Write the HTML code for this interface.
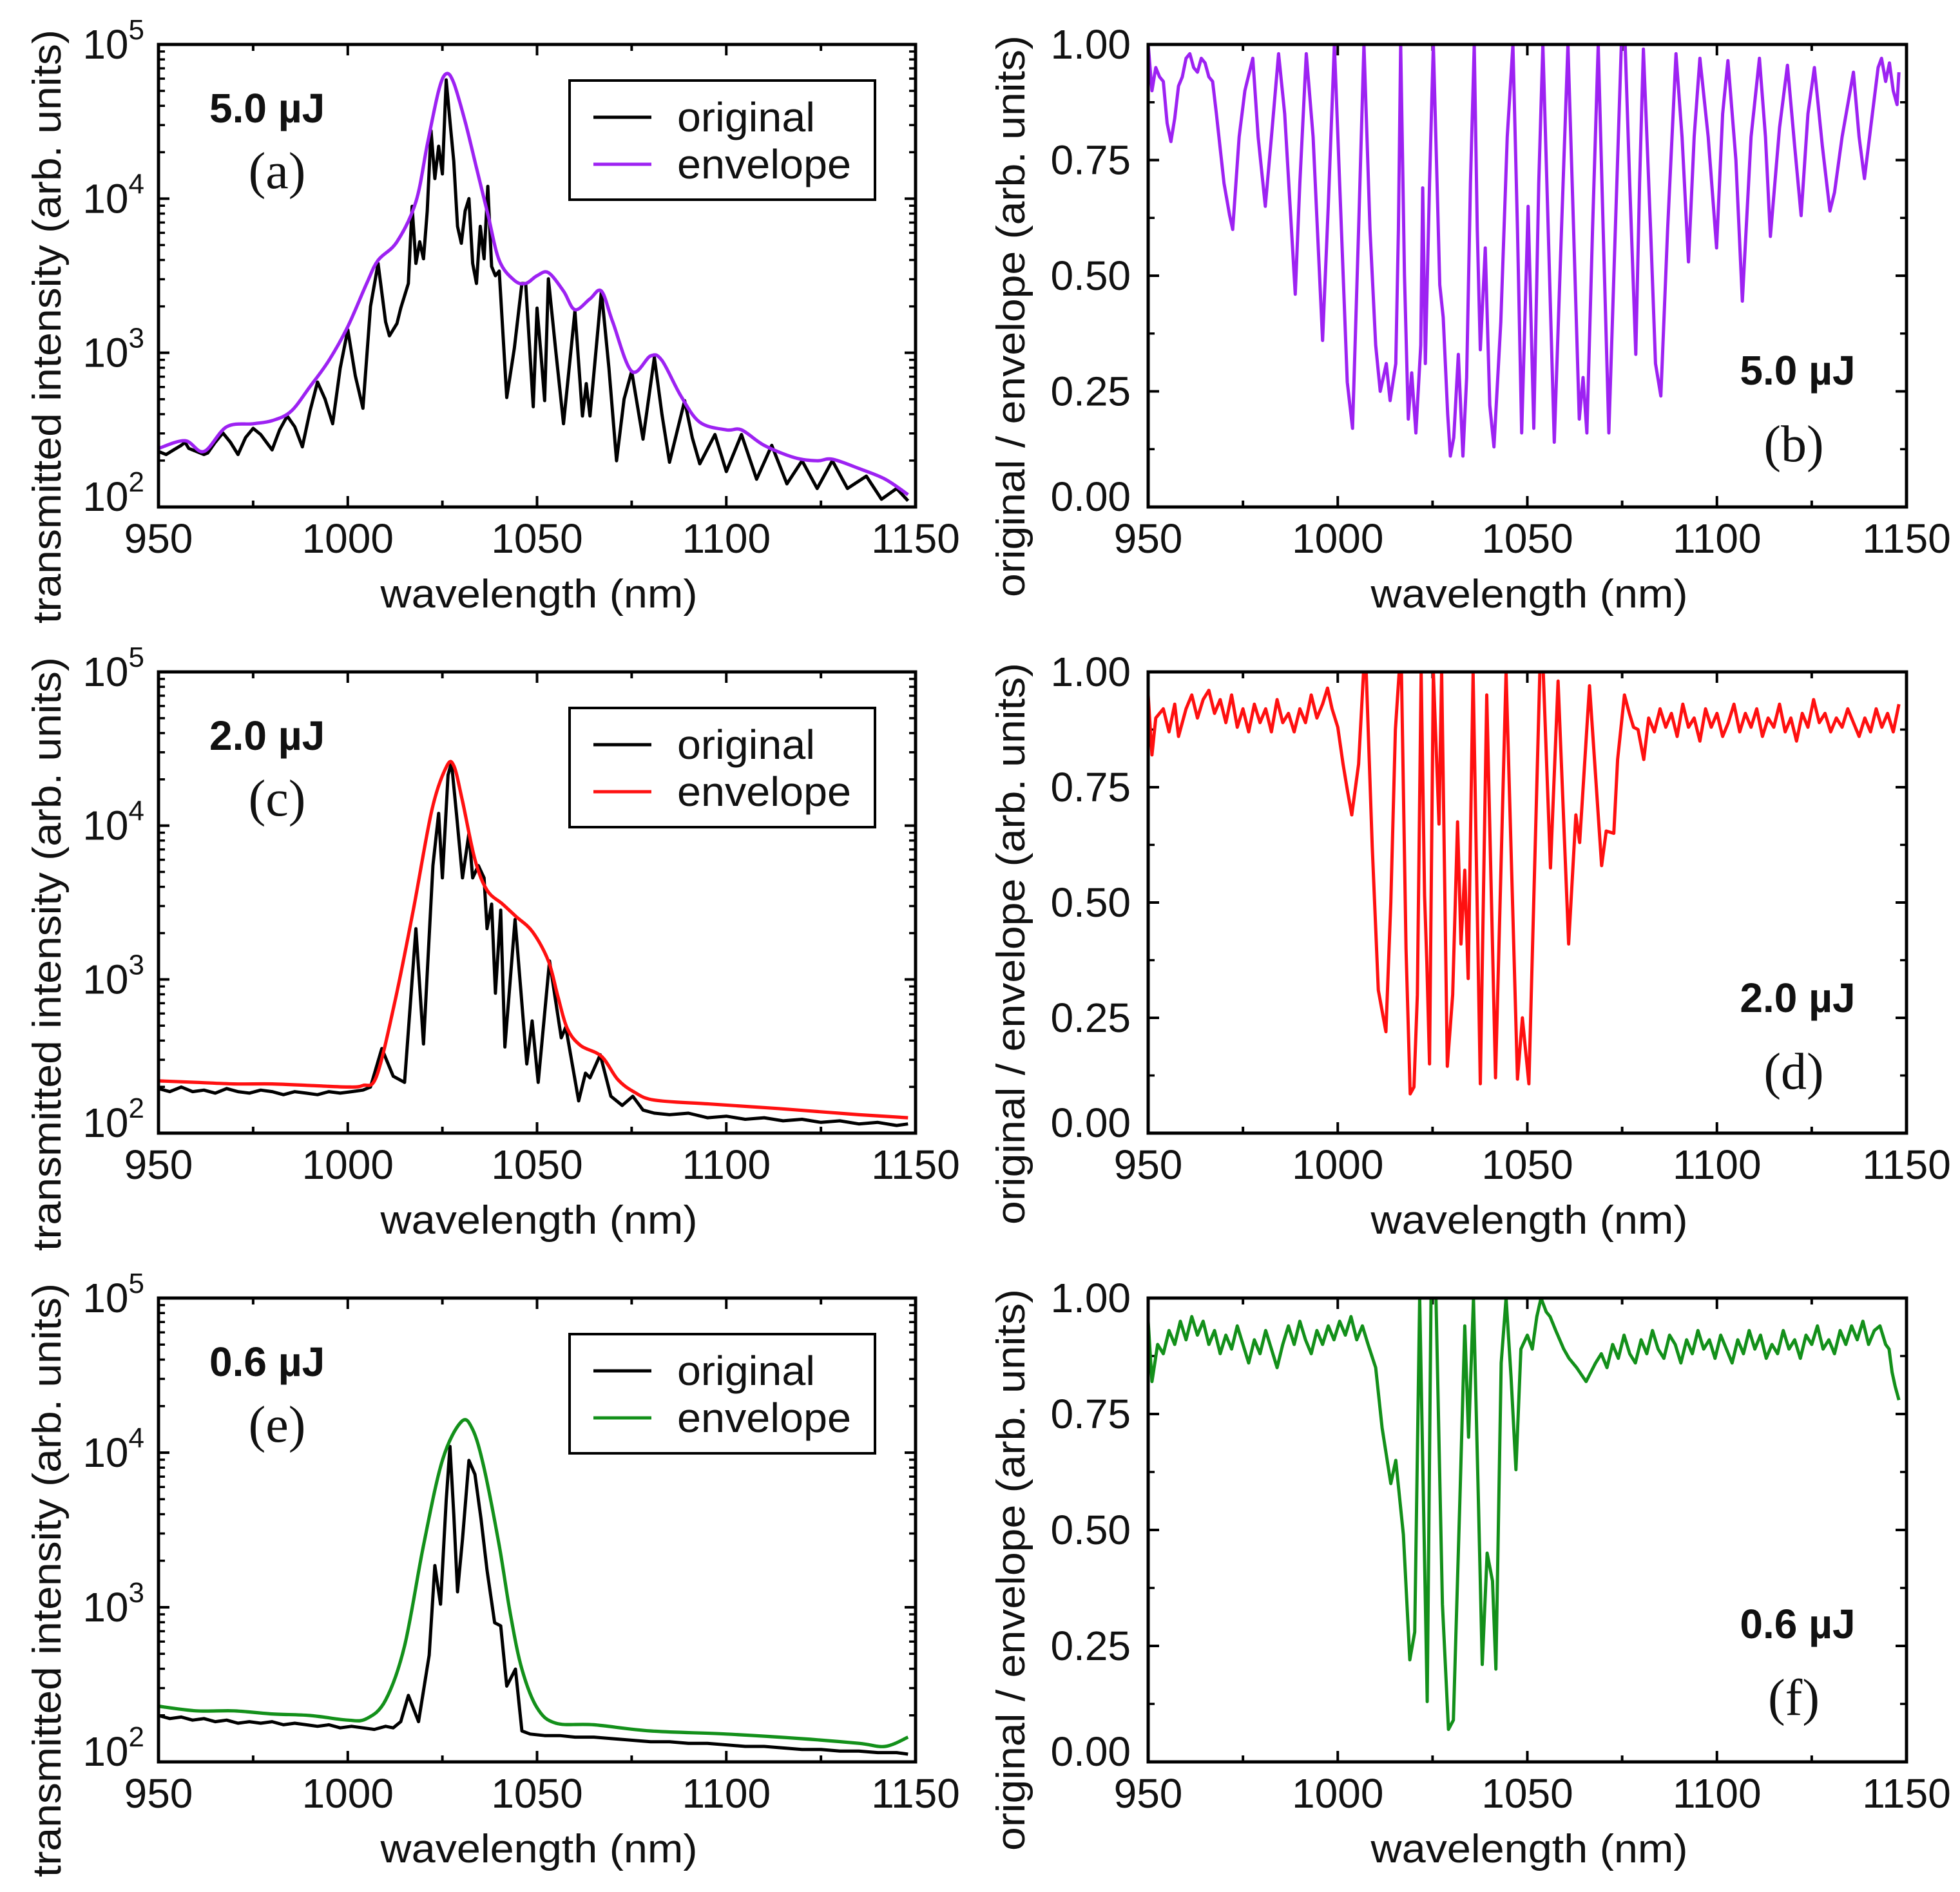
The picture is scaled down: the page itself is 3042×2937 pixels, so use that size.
<!DOCTYPE html>
<html><head><meta charset="utf-8"><title>Transmitted spectra</title>
<style>html,body{margin:0;padding:0;background:#fff}svg{display:block}</style></head>
<body>
<svg id="fig" xmlns="http://www.w3.org/2000/svg" width="3042" height="2937" viewBox="0 0 3042 2937"></svg>
<script>
// ---------- data: panel (a) 5.0 uJ, log10 intensity ----------
const aOrigWl = [950,952,954,956,957,958,960,962,963,965,
967,969,971,973,975,977,980,982,984,986,
988,990,992,994,996,998,1000,1002,1004,1006,
1008,1010,1011,1013,1014,1016,1017,1018,1019,1020,
1021,1022,1023,1024,1025,1026,1027,1028,1029,1030,
1031,1032,1033,1034,1035,1036,1037,1038,1039,1040,
1042,1044,1046,1047,1049,1050,1051,1052,1053,1055,
1057,1060,1062,1063,1064,1067,1069,1071,1073,1075,
1078,1081,1083,1085,1089,1091,1093,1097,1100,1104,
1108,1112,1116,1120,1124,1128,1132,1137,1141,1145,
1148];
const aOrigLog = [2.36,2.34,2.37,2.40,2.42,2.38,2.36,2.34,2.35,2.42,
2.48,2.42,2.34,2.45,2.51,2.47,2.37,2.50,2.59,2.52,
2.39,2.62,2.81,2.70,2.54,2.90,3.15,2.85,2.64,3.30,
3.58,3.20,3.11,3.19,3.29,3.45,3.95,3.58,3.72,3.61,
3.92,4.44,4.13,4.34,4.16,4.77,4.50,4.24,3.82,3.71,
3.92,4.00,3.58,3.45,3.82,3.61,4.08,3.56,3.50,3.53,
2.71,3.03,3.45,3.45,2.65,3.29,3.00,2.69,3.48,3.00,
2.54,3.27,2.59,2.80,2.59,3.40,2.90,2.30,2.70,2.88,
2.44,2.97,2.60,2.29,2.69,2.45,2.28,2.47,2.23,2.47,
2.18,2.40,2.15,2.30,2.12,2.30,2.12,2.20,2.05,2.12,
2.04];
const aEnvWl = [950,957,962,968,975,980,985,990,995,1000,
1005,1008,1013,1018,1021,1024,1026,1028,1031,1034,
1037,1040,1044,1047,1050,1053,1057,1060,1064,1067,
1070,1075,1080,1083,1088,1093,1100,1104,1110,1118,
1124,1128,1135,1142,1148];
const aEnvLog = [2.38,2.43,2.36,2.52,2.54,2.56,2.62,2.78,2.95,3.17,
3.45,3.60,3.72,3.98,4.35,4.70,4.81,4.75,4.50,4.20,
3.90,3.60,3.47,3.45,3.50,3.52,3.40,3.28,3.35,3.40,
3.20,2.88,2.98,2.95,2.72,2.55,2.50,2.50,2.40,2.32,
2.30,2.31,2.25,2.18,2.08];
// ---------- panel (b) ratio ----------
const bWl = [950,951,952,953,954,955,956,957,958,959,
960,961,962,963,964,965,966,967,968,970,
971.5,972.3,974,975.5,977.6,979,980.9,982.5,984.4,986,
988.8,990,991.7,993.5,996,997.5,999.1,1000.5,1002.5,1003.9,
1005.5,1006.9,1008.5,1010,1011.2,1012,1012.8,1013.8,1015.3,1016,
1016.6,1017.6,1018.6,1019.5,1020.6,1021.9,1022.4,1023.1,1024.2,1025.2,
1026.2,1026.9,1027.8,1029,1029.7,1030.6,1031.8,1033,1034,1035,
1036,1036.8,1037.6,1038.9,1040.1,1041.2,1043,1044.7,1046.2,1047.4,
1048.5,1050.2,1051.7,1053,1054.1,1055.5,1057.1,1059,1060.7,1062.2,
1063.7,1064.7,1065.7,1067.2,1068.7,1070,1071.5,1073,1074.8,1075.8,
1077,1078.6,1079.6,1080.6,1082.5,1083.8,1085.2,1087,1089.2,1090.8,
1092.5,1094,1095.5,1097.7,1099.9,1101.5,1102.9,1105,1106.7,1109,
1111.2,1112.8,1114.1,1116.5,1118.6,1120.5,1122.2,1124,1125.7,1127.8,
1129.8,1131,1133,1136,1137.5,1138.9,1141,1142.5,1143.4,1144.5,
1145.5,1146.5,1147.5,1148];
const bRatio = [1.00,0.90,0.95,0.93,0.92,0.83,0.79,0.84,0.91,0.93,
0.97,0.98,0.95,0.94,0.97,0.96,0.93,0.92,0.85,0.70,
0.63,0.60,0.80,0.90,0.97,0.80,0.65,0.80,0.98,0.85,
0.46,0.70,0.98,0.80,0.36,0.65,1.00,0.70,0.27,0.17,
0.60,1.00,0.60,0.35,0.25,0.28,0.31,0.23,0.31,0.60,
1.00,0.50,0.19,0.29,0.16,0.35,0.69,0.31,0.70,1.00,
0.70,0.48,0.41,0.20,0.11,0.15,0.33,0.11,0.28,0.70,
1.00,0.60,0.34,0.56,0.22,0.13,0.40,0.80,1.00,0.60,
0.16,0.65,0.17,0.70,1.00,0.60,0.14,0.60,1.00,0.60,
0.19,0.28,0.16,0.60,1.00,0.60,0.16,0.55,1.00,1.00,
0.70,0.33,0.70,0.99,0.60,0.31,0.24,0.60,0.98,0.80,
0.53,0.80,0.97,0.80,0.56,0.85,0.965,0.75,0.445,0.80,
0.97,0.80,0.585,0.82,0.955,0.78,0.63,0.85,0.95,0.78,
0.64,0.68,0.80,0.94,0.80,0.71,0.85,0.95,0.97,0.92,
0.96,0.90,0.87,0.94];
// ---------- panel (c) 2.0 uJ ----------
const cOrigWl = [950,953,956,959,962,965,968,971,974,977,
980,983,986,989,992,995,998,1001,1004,1006,
1009,1012,1015,1018,1020,1022.5,1024,1025,1026.5,1027.4,
1028.7,1030.3,1032,1033,1034.5,1036,1036.8,1038,1039,1040.4,
1041.5,1044.2,1047.3,1048.7,1050.3,1053.3,1056.4,1057.6,1061,1062.8,
1064,1066.7,1069.5,1072.5,1075.3,1078,1081,1085,1090,1095,
1100,1105,1110,1115,1120,1125,1130,1135,1140,1145,
1148];
const cOrigLog = [2.29,2.27,2.30,2.27,2.28,2.26,2.29,2.27,2.26,2.28,
2.27,2.25,2.27,2.26,2.25,2.27,2.26,2.27,2.28,2.30,
2.55,2.37,2.33,3.33,2.58,3.74,4.08,3.66,4.33,4.41,
4.08,3.66,3.95,3.66,3.74,3.66,3.33,3.49,2.91,3.45,
2.56,3.39,2.45,2.73,2.33,3.12,2.62,2.69,2.21,2.39,
2.36,2.51,2.24,2.18,2.24,2.15,2.13,2.12,2.13,2.10,
2.11,2.09,2.10,2.08,2.09,2.07,2.08,2.06,2.07,2.05,
2.06];
const cEnvWl = [950,960,970,980,990,1000,1004,1007.6,1012.4,1017.3,
1022.2,1026,1028,1030.3,1033.6,1036.8,1040.9,1044.4,1048.8,1053,
1055.5,1058,1061.5,1067,1071.3,1075.5,1081,1095.5,1113.7,1135,
1148];
const cEnvLog = [2.34,2.33,2.32,2.32,2.31,2.30,2.31,2.37,2.85,3.45,
4.10,4.38,4.39,4.16,3.78,3.58,3.49,3.41,3.31,3.12,
2.89,2.68,2.57,2.50,2.35,2.27,2.215,2.19,2.16,2.12,
2.10];
// ---------- panel (d) ratio ----------
const dWl = [950,951,952,954,955.5,957,958,960,961.5,963,
964.5,966,967.5,969,970.5,972,973.5,975,976.5,978,
979.5,981,982.5,984,985.5,987,988.5,990,991.5,993,
994.5,996,997.3,998.5,1000,1001.4,1002.6,1003.7,1005.5,1006.8,
1007.5,1009.1,1010.7,1012.7,1014,1015.2,1016.2,1016.8,1018,1019.1,
1020.1,1021,1022,1022.9,1023.5,1024.2,1025.2,1026.7,1027.4,1028.9,
1030.3,1031.6,1032.5,1033.5,1034.4,1035.7,1037.6,1039.3,1041.6,1044.4,
1047.4,1048.7,1050.4,1053.3,1054.2,1056.1,1058.1,1060.9,1062.8,1063.8,
1066.4,1069.6,1070.8,1072.8,1073.8,1075.6,1076.9,1078,1079.2,1080.7,
1082,1083.5,1085,1086.5,1088,1089.5,1091,1092.5,1094,1095.5,
1097,1098.5,1100,1101.5,1103,1104.5,1106,1107.5,1109,1110.5,
1112,1113.5,1115,1116.5,1118,1119.5,1121,1122.5,1124,1125.5,
1127,1128.5,1130,1131.5,1133,1134.5,1136,1137.5,1139,1140.5,
1142,1143.5,1145,1146.5,1148];
const dRatio = [0.95,0.82,0.90,0.92,0.87,0.93,0.86,0.92,0.95,0.90,
0.94,0.96,0.91,0.94,0.89,0.95,0.88,0.92,0.87,0.93,
0.89,0.92,0.87,0.94,0.89,0.91,0.87,0.92,0.89,0.95,
0.90,0.93,0.965,0.92,0.88,0.80,0.74,0.69,0.80,1.00,
1.00,0.62,0.31,0.22,0.50,0.875,1.00,1.00,0.40,0.085,
0.10,0.30,1.00,0.515,0.37,0.15,1.00,0.67,1.00,0.145,
0.30,0.675,0.41,0.57,0.335,1.00,0.107,0.95,0.12,1.00,
0.117,0.25,0.107,1.00,1.00,0.575,0.98,0.41,0.69,0.63,
0.97,0.58,0.655,0.65,0.81,0.95,0.91,0.88,0.875,0.81,
0.90,0.87,0.92,0.88,0.91,0.86,0.93,0.88,0.90,0.85,
0.92,0.88,0.91,0.86,0.89,0.93,0.87,0.91,0.88,0.92,
0.86,0.90,0.88,0.93,0.87,0.90,0.85,0.91,0.88,0.94,
0.89,0.91,0.87,0.90,0.88,0.92,0.89,0.86,0.90,0.87,
0.92,0.88,0.91,0.87,0.93];
// ---------- panel (e) 0.6 uJ ----------
const eOrigWl = [950,953,956,959,962,965,968,971,974,977,
980,983,986,989,992,995,998,1001,1004,1007,
1010,1012,1014,1016,1018.7,1021.5,1023,1024.5,1026,1027,
1028,1029,1030.3,1032,1033.6,1035.2,1036.8,1038.8,1040.4,1042,
1044.3,1046,1048.2,1052,1056,1060,1065,1070,1075,1080,
1085,1090,1095,1100,1105,1110,1115,1120,1125,1130,
1135,1140,1145,1148];
const eOrigLog = [2.30,2.28,2.29,2.27,2.28,2.26,2.27,2.25,2.26,2.25,
2.26,2.24,2.25,2.24,2.23,2.24,2.22,2.23,2.22,2.21,
2.23,2.22,2.26,2.43,2.26,2.69,3.27,3.02,3.69,4.04,
3.60,3.10,3.44,3.95,3.86,3.57,3.24,2.90,2.88,2.49,
2.60,2.20,2.18,2.17,2.17,2.16,2.16,2.15,2.14,2.13,
2.13,2.12,2.12,2.11,2.10,2.10,2.09,2.08,2.08,2.07,
2.07,2.06,2.06,2.05];
const eEnvWl = [950,960,970,980,990,1000,1005,1010,1015,1020,
1025,1030,1033,1036,1040,1043,1046,1050,1055,1065,
1080,1100,1120,1135,1142,1148];
const eEnvLog = [2.36,2.33,2.33,2.31,2.30,2.27,2.28,2.40,2.75,3.40,
3.95,4.20,4.15,3.90,3.40,2.95,2.60,2.35,2.25,2.24,
2.20,2.18,2.15,2.12,2.10,2.16];
// ---------- panel (f) ratio ----------
const fWl = [950,951,952.5,954,955.5,957,958.5,960,961.5,963,
964.5,966,967.5,969,970.5,972,973.5,975,976.5,978,
979.5,981,982.5,984,985.5,987,988.5,990,991.5,993,
994.5,996,997.5,999,1000.5,1002,1003.5,1005,1006.5,1008,
1010,1011.7,1014,1015.3,1017.3,1019,1020.3,1021.6,1022.6,1023.6,
1024.6,1025.9,1027.6,1029.2,1030.5,1032.2,1033.5,1034.5,1035.8,1037.1,
1038.1,1039.4,1040.8,1041.7,1043.1,1044.4,1045.7,1047,1048.3,1050,
1051.3,1052.5,1053.6,1055,1056,1057.5,1059.6,1061,1063,1065.5,
1068,1069.5,1071,1072.5,1074,1075.5,1077,1078.5,1080,1081.5,
1083,1084.5,1086,1087.5,1089,1090.5,1092,1093.5,1095,1096.5,
1098,1099.5,1101,1102.5,1104,1105.5,1107,1108.5,1110,1111.5,
1113,1114.5,1116,1117.5,1119,1120.5,1122,1123.5,1125,1126.5,
1128,1129.5,1131,1132.5,1134,1135.5,1137,1138.5,1140,1141.5,
1143,1144.5,1145.4,1146.2,1147,1148];
const fRatio = [0.95,0.82,0.90,0.88,0.93,0.90,0.95,0.91,0.96,0.92,
0.95,0.90,0.93,0.88,0.92,0.89,0.94,0.90,0.86,0.91,
0.88,0.93,0.89,0.85,0.90,0.94,0.90,0.95,0.91,0.88,
0.93,0.90,0.94,0.91,0.95,0.92,0.96,0.91,0.94,0.90,
0.85,0.72,0.60,0.65,0.49,0.22,0.28,1.00,0.56,0.13,
1.00,1.00,0.34,0.07,0.09,0.56,0.94,0.70,1.00,0.56,
0.21,0.45,0.39,0.20,0.86,1.00,0.83,0.63,0.89,0.92,
0.89,0.96,1.00,0.97,0.96,0.93,0.89,0.87,0.85,0.82,
0.86,0.88,0.85,0.90,0.87,0.92,0.88,0.86,0.91,0.88,
0.93,0.89,0.87,0.92,0.90,0.86,0.91,0.88,0.93,0.89,
0.91,0.87,0.92,0.89,0.86,0.91,0.88,0.93,0.89,0.92,
0.87,0.90,0.88,0.93,0.89,0.91,0.87,0.92,0.90,0.94,
0.89,0.91,0.88,0.93,0.90,0.94,0.91,0.95,0.90,0.93,
0.94,0.90,0.89,0.84,0.81,0.78];
// ---------- axis tick labels ----------
const xTicks = [950,1000,1050,1100,1150];
const logTicks = [2,3,4,5];
const ratioTicks = [0,0.25,0.5,0.75,1.0];
const ratioTickLabels = ['0.00','0.25','0.50','0.75','1.00'];

const NS = 'http://www.w3.org/2000/svg';
const svg = document.getElementById('fig');
function mk(tag, attrs, parent){
  const e = document.createElementNS(NS, tag);
  for (const k in attrs) e.setAttribute(k, attrs[k]);
  (parent||svg).appendChild(e);
  return e;
}
const FONT = '"Liberation Sans", "DejaVu Sans", sans-serif';
const SERIF = '"Liberation Serif", serif';

function linePath(xs, ys){
  let d = '';
  const n = Math.min(xs.length, ys.length);
  for (let i=0;i<n;i++) d += (i?'L':'M') + xs[i].toFixed(1) + ' ' + ys[i].toFixed(1);
  return d;
}
function smoothPath(xs, ys){
  const n = Math.min(xs.length, ys.length);
  let d = 'M' + xs[0].toFixed(1) + ' ' + ys[0].toFixed(1);
  for (let i=0;i<n-1;i++){
    const x0=xs[Math.max(i-1,0)], y0=ys[Math.max(i-1,0)];
    const x1=xs[i], y1=ys[i], x2=xs[i+1], y2=ys[i+1];
    const x3=xs[Math.min(i+2,n-1)], y3=ys[Math.min(i+2,n-1)];
    const c1x=x1+(x2-x0)/6, c1y=y1+(y2-y0)/6, c2x=x2-(x3-x1)/6, c2y=y2-(y3-y1)/6;
    d += 'C'+c1x.toFixed(1)+' '+c1y.toFixed(1)+' '+c2x.toFixed(1)+' '+c2y.toFixed(1)+' '+x2.toFixed(1)+' '+y2.toFixed(1);
  }
  return d;
}

const LX0 = 246, LX1 = 1421, RX0 = 1782, RX1 = 2959;
const ROW_Y0 = [69, 1043, 2015], ROW_Y1 = [787, 1759, 2735];

function xAxis(g, x0, x1, y0, y1, sx){
  for (let w=950; w<=1150; w+=25){
    const major = (w % 50 === 0);
    const L = major ? 17 : 10;
    const X = sx(w);
    mk('line',{x1:X,y1:y1,x2:X,y2:y1-L,stroke:'#000','stroke-width':4},g);
    mk('line',{x1:X,y1:y0,x2:X,y2:y0+L,stroke:'#000','stroke-width':4},g);
  }
  xTicks.forEach(w=>{
    const t = mk('text',{x:sx(w),y:y1+71,'text-anchor':'middle','font-family':FONT,'font-size':64,fill:'#111'},g);
    
    
    t.textContent = String(w);
  });
  const tt = mk('text',{x:(x0+x1)/2+3,y:y1+156,'text-anchor':'middle','font-family':FONT,'font-size':62,fill:'#111',textLength:492,lengthAdjust:'spacingAndGlyphs'},g);
  
  
  tt.textContent = 'wavelength (nm)';
}

function logPanel(row, letter, energy, envColor, oWl, oLog, eWl, eLog){
  const x0=LX0, x1=LX1, y0=ROW_Y0[row], y1=ROW_Y1[row];
  const sx = w => x0 + (w-950)/200*(x1-x0);
  const sy = v => y1 - (v-2)/3*(y1-y0);
  const g = mk('g',{});
  
  
  const cp = mk('clipPath',{id:'clip'+letter},g);
  mk('rect',{x:x0,y:y0,width:x1-x0,height:y1-y0},cp);
  for (let dec=2; dec<5; dec++){
    for (let k=2;k<=9;k++){
      const Y = sy(dec+Math.log10(k));
      mk('line',{x1:x0,y1:Y,x2:x0+10,y2:Y,stroke:'#000','stroke-width':3.5},g);
      mk('line',{x1:x1,y1:Y,x2:x1-10,y2:Y,stroke:'#000','stroke-width':3.5},g);
    }
  }
  logTicks.forEach(v=>{
    const Y = sy(v);
    mk('line',{x1:x0,y1:Y,x2:x0+17,y2:Y,stroke:'#000','stroke-width':4},g);
    mk('line',{x1:x1,y1:Y,x2:x1-17,y2:Y,stroke:'#000','stroke-width':4},g);
    const t = mk('text',{x:x0-22,y:Y+(v===2?6:22),'text-anchor':'end','font-family':FONT,'font-size':64,fill:'#111'},g);
    
    
    t.appendChild(document.createTextNode('10'));
    const sp = mk('tspan',{dy:-30,'font-size':44},t);
    sp.textContent = String(v);
  });
  xAxis(g,x0,x1,y0,y1,sx);
  const orig = mk('path',{d:linePath(oWl.map(sx), oLog.map(sy)),fill:'none',stroke:'#000','stroke-width':5,'stroke-linejoin':'round','clip-path':'url(#clip'+letter+')'},g);
  
  
  const env = mk('path',{d:smoothPath(eWl.map(sx), eLog.map(sy)),fill:'none',stroke:envColor,'stroke-width':5.2,'stroke-linejoin':'round','clip-path':'url(#clip'+letter+')'},g);
  
  
  const fr = mk('rect',{x:x0,y:y0,width:x1-x0,height:y1-y0,fill:'none',stroke:'#000','stroke-width':5},g);
  
  
  const yt = mk('text',{x:0,y:0,transform:'translate(94,'+(y0+438)+') rotate(-90)','text-anchor':'middle','font-family':FONT,'font-size':62,fill:'#111',textLength:922,lengthAdjust:'spacingAndGlyphs'},g);
  
  
  yt.textContent = 'transmitted intensity (arb. units)';
  const oy = y0-69;
  const lg = mk('g',{},g);
  
  
  mk('rect',{x:884,y:125+oy,width:474,height:185,fill:'#fff',stroke:'#000','stroke-width':4},lg);
  const l1 = mk('line',{x1:921,y1:182+oy,x2:1011,y2:182+oy,stroke:'#000','stroke-width':5},lg);
  
  
  const t1 = mk('text',{x:1051,y:204+oy,'font-family':FONT,'font-size':64,fill:'#111',textLength:214,lengthAdjust:'spacingAndGlyphs'},lg);
  
  
  t1.textContent = 'original';
  const l2 = mk('line',{x1:921,y1:255+oy,x2:1011,y2:255+oy,stroke:envColor,'stroke-width':5},lg);
  
  
  const t2 = mk('text',{x:1051,y:277+oy,'font-family':FONT,'font-size':64,fill:'#111',textLength:270,lengthAdjust:'spacingAndGlyphs'},lg);
  
  
  t2.textContent = 'envelope';
  const en = mk('text',{x:325,y:190+oy,'font-family':FONT,'font-size':64,'font-weight':'bold',fill:'#111'},g);
  
  
  en.textContent = energy;
  const pl = mk('text',{x:430,y:292+oy,'text-anchor':'middle','font-family':SERIF,'font-size':80,fill:'#111'},g);
  
  
  pl.textContent = '('+letter+')';
}

function ratioPanel(row, letter, energy, color, rWl, rVal){
  const x0=RX0, x1=RX1, y0=ROW_Y0[row], y1=ROW_Y1[row];
  const sx = w => x0 + (w-950)/200*(x1-x0);
  const sy = r => y1 - r*(y1-y0);
  const g = mk('g',{});
  
  
  const cp = mk('clipPath',{id:'clip'+letter},g);
  mk('rect',{x:x0,y:y0,width:x1-x0,height:y1-y0},cp);
  for (let i=0;i<4;i++){
    const Y = sy(0.125+0.25*i);
    mk('line',{x1:x0,y1:Y,x2:x0+10,y2:Y,stroke:'#000','stroke-width':3.5},g);
    mk('line',{x1:x1,y1:Y,x2:x1-10,y2:Y,stroke:'#000','stroke-width':3.5},g);
  }
  ratioTicks.forEach((v,i)=>{
    const Y = sy(v);
    mk('line',{x1:x0,y1:Y,x2:x0+17,y2:Y,stroke:'#000','stroke-width':4},g);
    mk('line',{x1:x1,y1:Y,x2:x1-17,y2:Y,stroke:'#000','stroke-width':4},g);
    const t = mk('text',{x:x0-27,y:Y+(v===0?6:22),'text-anchor':'end','font-family':FONT,'font-size':64,fill:'#111'},g);
    
    
    t.textContent = ratioTickLabels[i];
  });
  xAxis(g,x0,x1,y0,y1,sx);
  const ln = mk('path',{d:linePath(rWl.map(sx), rVal.map(sy)),fill:'none',stroke:color,'stroke-width':5,'stroke-linejoin':'round','clip-path':'url(#clip'+letter+')'},g);
  
  
  const fr = mk('rect',{x:x0,y:y0,width:x1-x0,height:y1-y0,fill:'none',stroke:'#000','stroke-width':5},g);
  
  
  const yt = mk('text',{x:0,y:0,transform:'translate(1590,'+(y0+422)+') rotate(-90)','text-anchor':'middle','font-family':FONT,'font-size':62,fill:'#111',textLength:872,lengthAdjust:'spacingAndGlyphs'},g);
  
  
  yt.textContent = 'original / envelope (arb. units)';
  const oy = y0-69;
  const en = mk('text',{x:2790,y:597+oy,'text-anchor':'middle','font-family':FONT,'font-size':64,'font-weight':'bold',fill:'#111'},g);
  
  
  en.textContent = energy;
  const pl = mk('text',{x:2784,y:716+oy,'text-anchor':'middle','font-family':SERIF,'font-size':80,fill:'#111'},g);
  
  
  pl.textContent = '('+letter+')';
}

logPanel(0,'a','5.0 \u00b5J','#9d22f2',aOrigWl,aOrigLog,aEnvWl,aEnvLog);
ratioPanel(0,'b','5.0 \u00b5J','#9d22f2',bWl,bRatio);
logPanel(1,'c','2.0 \u00b5J','#ff1010',cOrigWl,cOrigLog,cEnvWl,cEnvLog);
ratioPanel(1,'d','2.0 \u00b5J','#ff1010',dWl,dRatio);
logPanel(2,'e','0.6 \u00b5J','#13901a',eOrigWl,eOrigLog,eEnvWl,eEnvLog);
ratioPanel(2,'f','0.6 \u00b5J','#13901a',fWl,fRatio);
</script>
</body></html>
